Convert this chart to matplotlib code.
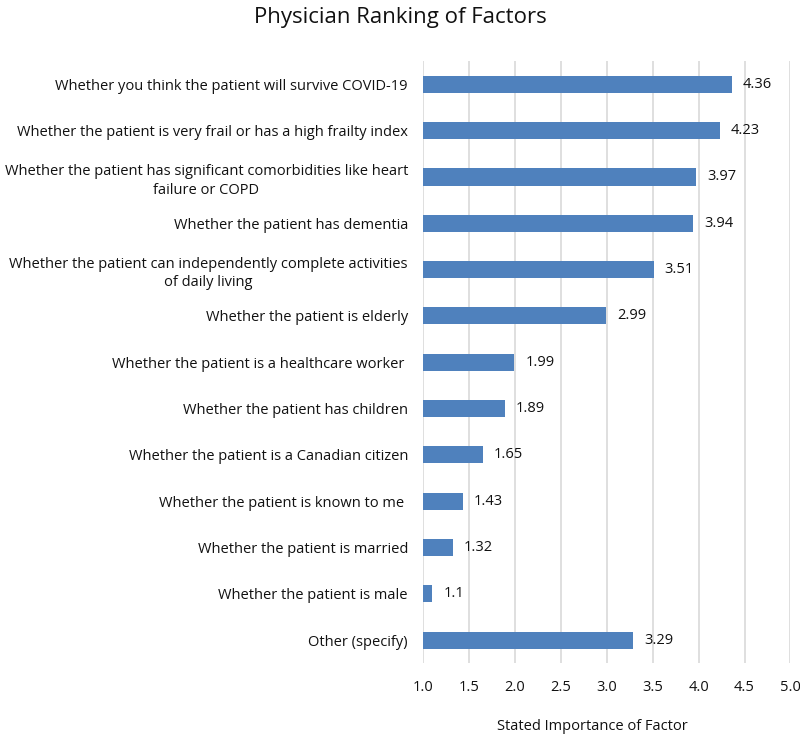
import matplotlib.pyplot as plt

plt.rcParams['font.family'] = ['Open Sans', 'DejaVu Sans']

factors = [
    "Whether you think the patient will survive COVID-19",
    "Whether the patient is very frail or has a high frailty index",
    "Whether the patient has significant comorbidities like heart\nfailure or COPD",
    "Whether the patient has dementia",
    "Whether the patient can independently complete activities\nof daily living",
    "Whether the patient is elderly",
    "Whether the patient is a healthcare worker ",
    "Whether the patient has children",
    "Whether the patient is a Canadian citizen",
    "Whether the patient is known to me ",
    "Whether the patient is married",
    "Whether the patient is male",
    "Other (specify)",
]
scores = [4.36, 4.23, 3.97, 3.94, 3.51, 2.99, 1.99, 1.89, 1.65, 1.43, 1.32, 1.1, 3.29]
score_labels = ["4.36", "4.23", "3.97", "3.94", "3.51", "2.99", "1.99", "1.89",
                "1.65", "1.43", "1.32", "1.1", "3.29"]
xticks = [1.0, 1.5, 2.0, 2.5, 3.0, 3.5, 4.0, 4.5, 5.0]

fig = plt.figure(figsize=(8, 7.37), dpi=100)
ax = fig.add_axes([0.529, 0.100, 0.459, 0.817])

pos = list(range(len(factors)))
widths = [s - 1.0 for s in scores]
ax.barh(pos, widths, left=1.0, height=0.37, color="#4F81BD", zorder=3)
for p, s, lab in zip(pos, scores, score_labels):
    ax.annotate(lab, (s, p), xytext=(8, 0), textcoords="offset points",
                va="center", ha="left", fontsize=10.5, color="#111111")

ax.set_xlim(1.0, 5.0)
ax.set_ylim(len(factors) - 0.5, -0.5)
ax.set_yticks(pos)
ax.set_yticklabels(factors, fontsize=10.5, multialignment="center", linespacing=1.35)
ax.set_xticks(xticks)
ax.set_xticklabels([f"{t:.1f}" for t in xticks], fontsize=10.5)
ax.grid(axis="x", color="#D9D9D9", linewidth=1.2, zorder=0)
ax.tick_params(axis="x", length=0, pad=12, colors="#111111")
ax.tick_params(axis="y", length=0, pad=11, colors="#111111")
for sp in ax.spines.values():
    sp.set_visible(False)
ax.set_xlabel("Stated Importance of Factor", fontsize=10.5, color="#111111", va="center")
ax.xaxis.set_label_coords(0.46, -0.105)

fig.suptitle("Physician Ranking of Factors", x=0.5, y=0.99, fontsize=16, color="#111111")

fig.savefig("out.png", dpi=100)
